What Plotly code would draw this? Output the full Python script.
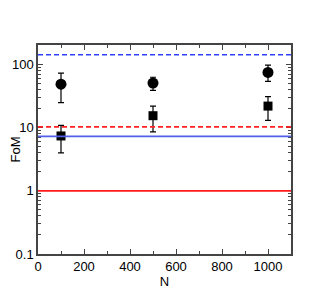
import plotly.graph_objects as go

N = [100, 500, 1000]
circ = [49, 51, 75]
circ_hi = [73, 63, 98]
circ_lo = [25, 39, 54]
sq = [7.4, 15.5, 22]
sq_hi = [10.9, 22, 31]
sq_lo = [4.0, 8.6, 13.1]

blue_dash = 143
red_dash = 10.3
blue_solid = 7.3
red_solid = 1.0

fig = go.Figure()

for yv, col, dash in [(blue_dash, "#3040ff", "5px,3px"), (red_dash, "#ff2020", "5px,3px"),
                      (blue_solid, "#5060e8", "solid"), (red_solid, "#ff1a1a", "solid")]:
    fig.add_hline(y=yv, line=dict(color=col, width=1.6, dash=dash))

fig.add_trace(go.Scatter(
    x=N, y=circ, mode="markers",
    marker=dict(symbol="circle", size=11, color="black"),
    error_y=dict(type="data", symmetric=False,
                 array=[h - v for h, v in zip(circ_hi, circ)],
                 arrayminus=[v - l for v, l in zip(circ, circ_lo)],
                 color="black", thickness=1.2, width=3),
    showlegend=False))
fig.add_trace(go.Scatter(
    x=N, y=sq, mode="markers",
    marker=dict(symbol="square", size=9, color="black"),
    error_y=dict(type="data", symmetric=False,
                 array=[h - v for h, v in zip(sq_hi, sq)],
                 arrayminus=[v - l for v, l in zip(sq, sq_lo)],
                 color="black", thickness=1.2, width=3),
    showlegend=False))

minor_vals = [m * 10 ** e for e in [-1, 0, 1, 2] for m in range(2, 10)]

fig.update_layout(
    width=319, height=292,
    margin=dict(l=30, r=36, t=37, b=46),
    plot_bgcolor="white", paper_bgcolor="white",
    font=dict(family="Liberation Sans, Arial, sans-serif", size=12, color="black"),
)
fig.update_xaxes(
    range=[0, 1100], tickvals=[0, 200, 400, 600, 800, 1000],
    ticks="inside", ticklen=5, tickcolor="#444", mirror="allticks",
    showline=True, linecolor="#444", linewidth=1.5, showgrid=False, zeroline=False,
    minor=dict(tickvals=[100, 300, 500, 700, 900, 1100], ticks="inside", ticklen=3, tickcolor="#444"),
    title=dict(text="N", standoff=0, font=dict(size=13)),
    tickfont=dict(size=13), automargin=False,
)
fig.update_yaxes(
    type="log", range=[-1, 2.31], tickvals=[0.1, 1, 10, 100], ticktext=["0.1", "1", "10", "100"],
    ticks="inside", ticklen=5, tickcolor="#444", mirror="allticks",
    showline=True, linecolor="#444", linewidth=1.5, showgrid=False, zeroline=False,
    minor=dict(tickvals=minor_vals, ticks="inside", ticklen=3, tickcolor="#444"),
    title=dict(text="FoM", standoff=2, font=dict(size=13)),
    tickfont=dict(size=13), automargin=False,
)

fig.write_html("out.html")
